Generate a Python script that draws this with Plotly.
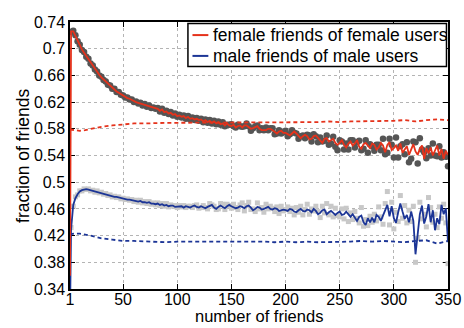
import plotly.graph_objects as go

# ---------------- data ----------------
x_line = [1] + list(range(2, 351, 2))
x_dots = list(range(2, 351, 2))
x_dash = [1, 5, 10, 15, 20, 25, 30] + list(range(40, 351, 10))

female_line = [0.36,
    0.726,0.726,0.719,0.712,0.705,0.699,0.694,0.689,0.684,0.679,
    0.674,0.670,0.665,0.661,0.657,0.654,0.650,0.647,0.644,0.641,
    0.639,0.636,0.634,0.632,0.629,0.628,0.626,0.625,0.623,0.621,
    0.620,0.619,0.618,0.616,0.616,0.614,0.614,0.612,0.611,0.611,
    0.610,0.607,0.609,0.605,0.606,0.603,0.604,0.601,0.602,0.599,
    0.600,0.598,0.599,0.596,0.598,0.595,0.596,0.594,0.595,0.593,
    0.594,0.591,0.593,0.590,0.592,0.589,0.591,0.588,0.590,0.587,
    0.588,0.585,0.588,0.585,0.584,0.586,0.582,0.584,0.585,0.582,
    0.585,0.585,0.582,0.580,0.581,0.582,0.584,0.580,0.578,0.578,
    0.578,0.580,0.580,0.578,0.575,0.573,0.576,0.577,0.574,0.574,
    0.572,0.570,0.573,0.576,0.573,0.569,0.566,0.569,0.571,0.569,
    0.564,0.565,0.569,0.570,0.566,0.562,0.559,0.565,0.566,0.561,
    0.563,0.565,0.559,0.556,0.559,0.563,0.556,0.552,0.558,0.561,
    0.555,0.558,0.563,0.553,0.550,0.557,0.559,0.554,0.551,0.558,
    0.556,0.549,0.552,0.559,0.555,0.545,0.556,0.560,0.548,0.551,
    0.555,0.547,0.558,0.544,0.550,0.554,0.541,0.550,0.557,0.546,
    0.541,0.550,0.555,0.535,0.551,0.543,0.552,0.540,0.547,0.555,
    0.540,0.550,0.535,0.547,0.541]

female_dots = [
    0.725,0.727,0.720,0.711,0.706,0.698,0.695,0.688,0.685,0.678,
    0.675,0.669,0.666,0.660,0.658,0.653,0.651,0.646,0.645,0.640,
    0.640,0.635,0.635,0.631,0.630,0.627,0.627,0.624,0.624,0.620,
    0.621,0.618,0.619,0.615,0.617,0.613,0.615,0.611,0.612,0.610,
    0.611,0.606,0.610,0.604,0.607,0.602,0.605,0.600,0.603,0.598,
    0.601,0.597,0.600,0.595,0.599,0.594,0.597,0.593,0.596,0.592,
    0.595,0.590,0.594,0.589,0.593,0.588,0.592,0.587,0.591,0.586,
    0.590,0.584,0.586,0.586,0.587,0.584,0.582,0.586,0.584,0.583,
    0.584,0.588,0.584,0.577,0.581,0.584,0.585,0.578,0.581,0.578,
    0.582,0.578,0.581,0.581,0.572,0.573,0.578,0.573,0.575,0.577,
    0.569,0.572,0.578,0.574,0.573,0.565,0.569,0.570,0.566,0.571,
    0.570,0.561,0.572,0.569,0.560,0.567,0.561,0.562,0.570,0.556,
    0.558,0.568,0.553,0.548,0.563,0.561,0.549,0.558,0.549,0.563,
    0.563,0.552,0.560,0.562,0.548,0.550,0.563,0.544,0.557,0.554,
    0.547,0.556,0.556,0.548,0.565,0.542,0.544,0.565,0.556,0.537,
    0.567,0.537,0.554,0.557,0.542,0.560,0.530,0.535,0.561,0.560,
    0.528,0.566,0.549,0.545,0.536,0.551,0.540,0.558,0.540,0.539,
    0.554,0.537,0.545,0.538,0.524]

female_base = [0.579,0.578,0.577,0.578,0.580,0.582,0.583,
    0.585,0.587,0.588,0.588,0.589,0.589,0.589,0.589,0.589,0.589,
    0.589,0.589,0.589,0.590,0.589,0.590,0.590,0.589,0.590,0.590,
    0.591,0.590,0.591,0.591,0.592,0.591,0.592,0.593,0.591,0.593,
    0.594,0.593]

male_line = [0.30,
    0.430,0.466,0.476,0.482,0.486,0.488,0.489,0.4895,0.489,0.488,
    0.487,0.486,0.486,0.485,0.484,0.483,0.482,0.481,0.480,0.479,
    0.478,0.478,0.477,0.476,0.475,0.475,0.474,0.474,0.473,0.472,
    0.472,0.471,0.472,0.470,0.470,0.469,0.470,0.468,0.468,0.467,
    0.468,0.466,0.467,0.465,0.466,0.464,0.465,0.465,0.463,0.463,
    0.463,0.464,0.462,0.464,0.463,0.462,0.464,0.465,0.463,0.462,
    0.464,0.462,0.461,0.463,0.464,0.466,0.462,0.460,0.463,0.465,
    0.463,0.461,0.464,0.466,0.464,0.462,0.461,0.462,0.464,0.463,
    0.461,0.464,0.465,0.462,0.458,0.460,0.463,0.462,0.459,0.460,
    0.462,0.463,0.460,0.459,0.461,0.460,0.457,0.458,0.459,0.458,
    0.457,0.460,0.459,0.456,0.455,0.458,0.460,0.457,0.456,0.459,
    0.458,0.455,0.460,0.457,0.452,0.454,0.458,0.459,0.452,0.455,
    0.457,0.454,0.451,0.454,0.456,0.451,0.452,0.456,0.451,0.448,
    0.452,0.446,0.442,0.448,0.450,0.440,0.436,0.446,0.440,0.447,
    0.440,0.451,0.448,0.442,0.451,0.459,0.466,0.449,0.464,0.446,
    0.439,0.455,0.468,0.456,0.445,0.451,0.440,0.456,0.442,0.392,
    0.428,0.452,0.465,0.438,0.449,0.467,0.440,0.458,0.428,0.446,
    0.437,0.466,0.452,0.461,0.410]

male_dots = [
    0.432,0.464,0.478,0.481,0.487,0.487,0.490,0.489,0.490,0.487,
    0.488,0.485,0.487,0.484,0.485,0.482,0.483,0.480,0.481,0.478,
    0.479,0.477,0.478,0.475,0.476,0.474,0.475,0.473,0.474,0.471,
    0.473,0.470,0.473,0.469,0.471,0.468,0.471,0.467,0.469,0.466,
    0.469,0.465,0.468,0.464,0.468,0.463,0.466,0.464,0.465,0.462,
    0.465,0.463,0.465,0.462,0.464,0.464,0.462,0.465,0.466,0.461,
    0.462,0.465,0.462,0.460,0.468,0.466,0.464,0.459,0.460,0.468,
    0.467,0.459,0.467,0.465,0.461,0.467,0.462,0.459,0.466,0.469,
    0.457,0.465,0.470,0.459,0.460,0.456,0.469,0.460,0.462,0.455,
    0.467,0.460,0.464,0.461,0.456,0.463,0.453,0.464,0.457,0.459,
    0.463,0.456,0.461,0.451,0.462,0.455,0.464,0.451,0.459,0.467,
    0.452,0.460,0.457,0.464,0.456,0.447,0.464,0.454,0.468,0.451,
    0.464,0.448,0.461,0.450,0.448,0.460,0.445,0.461,0.441,0.454,
    0.444,0.456,0.446,0.439,0.462,0.434,0.444,0.435,0.449,0.440,
    0.452,0.442,0.463,0.448,0.437,0.468,0.486,0.436,0.470,0.430,
    0.455,0.441,0.480,0.446,0.465,0.439,0.458,0.441,0.464,0.380,
    0.416,0.470,0.445,0.452,0.433,0.477,0.462,0.440,0.452,0.432,
    0.463,0.446,0.467,0.439,0.378]

male_base = [0.422,0.423,0.423,0.422,0.420,0.418,0.416,
    0.414,0.412,0.412,0.411,0.411,0.410,0.411,0.411,0.411,0.412,
    0.411,0.411,0.411,0.411,0.411,0.410,0.411,0.410,0.411,0.410,
    0.410,0.410,0.411,0.412,0.411,0.412,0.411,0.410,0.412,0.413,
    0.408,0.412]

legend_labels = ["female friends of female users", "male friends of male users"]
x_title = "number of friends"
y_title = "fraction of friends"
x_ticks = [1, 50, 100, 150, 200, 250, 300, 350]
y_ticks = [0.34, 0.38, 0.42, 0.46, 0.50, 0.54, 0.58, 0.62, 0.66, 0.70, 0.74]
y_ticktext = ["0.34", "0.38", "0.42", "0.46", "0.5", "0.54", "0.58", "0.62", "0.66", "0.7", "0.74"]

RED = "#e5321b"
BLUE = "#1c3596"
FONT = "Liberation Sans, Arial, sans-serif"

fig = go.Figure()
fig.add_trace(go.Scatter(x=x_dots, y=male_dots, mode="markers",
                         marker=dict(symbol="square", size=5, color="#c8c8c8"),
                         showlegend=False))
fig.add_trace(go.Scatter(x=x_dots, y=female_dots, mode="markers",
                         marker=dict(symbol="circle", size=6.5, color="#555555"),
                         showlegend=False))
fig.add_trace(go.Scatter(x=x_dash, y=male_base, mode="lines",
                         line=dict(color=BLUE, width=1.8, dash="4px,3px"),
                         showlegend=False))
fig.add_trace(go.Scatter(x=x_dash, y=female_base, mode="lines",
                         line=dict(color=RED, width=1.8, dash="4px,3px"),
                         showlegend=False))
fig.add_trace(go.Scatter(x=x_line, y=male_line, mode="lines",
                         line=dict(color=BLUE, width=1.8),
                         showlegend=False))
fig.add_trace(go.Scatter(x=x_line, y=female_line, mode="lines",
                         line=dict(color=RED, width=1.8),
                         showlegend=False))

# custom legend box (paper coordinates of the plot area)
fig.add_shape(type="rect", xref="paper", yref="paper",
              x0=0.312, x1=0.996, y0=0.833, y1=0.994,
              line=dict(color="black", width=1.5), fillcolor="white", layer="above")
fig.add_shape(type="line", xref="paper", yref="paper",
              x0=0.324, x1=0.366, y0=0.951, y1=0.951,
              line=dict(color=RED, width=2), layer="above")
fig.add_shape(type="line", xref="paper", yref="paper",
              x0=0.324, x1=0.366, y0=0.873, y1=0.873,
              line=dict(color=BLUE, width=2), layer="above")
for lab, yy in zip(legend_labels, [0.951, 0.873]):
    fig.add_annotation(text=lab, xref="paper", yref="paper", x=0.372, y=yy,
                       xanchor="left", yanchor="middle", showarrow=False,
                       font=dict(family=FONT, size=17.5, color="black"))

# axis titles
fig.add_annotation(text=x_title, xref="paper", yref="paper", x=0.5, y=-0.142,
                   xanchor="center", yanchor="bottom", showarrow=False,
                   font=dict(family=FONT, size=16.5, color="black"))
fig.add_annotation(text=y_title, xref="paper", yref="paper", x=-0.1257, y=0.5,
                   xanchor="center", yanchor="middle", showarrow=False, textangle=-90,
                   font=dict(family=FONT, size=17.5, color="black"))

axis_common = dict(showline=True, linecolor="black", linewidth=1.5, mirror="ticks",
                   ticks="inside", ticklen=5, tickwidth=1, tickcolor="black",
                   showgrid=True, gridcolor="#b4b4b4", griddash="dot", gridwidth=1,
                   zeroline=False, tickfont=dict(family=FONT, size=16, color="black"),
                   layer="below traces", automargin=False)

fig.update_xaxes(range=[1, 350], tickvals=x_ticks, ticktext=[str(v) for v in x_ticks],
                 ticklabelstandoff=-5, **axis_common)
fig.update_yaxes(range=[0.34, 0.74], tickvals=y_ticks, ticktext=y_ticktext,
                 **axis_common)

fig.update_layout(width=464, height=328, autosize=False,
                  margin=dict(l=70, r=16, t=22, b=39),
                  plot_bgcolor="white", paper_bgcolor="white",
                  showlegend=False)

fig.write_html("out.html")
